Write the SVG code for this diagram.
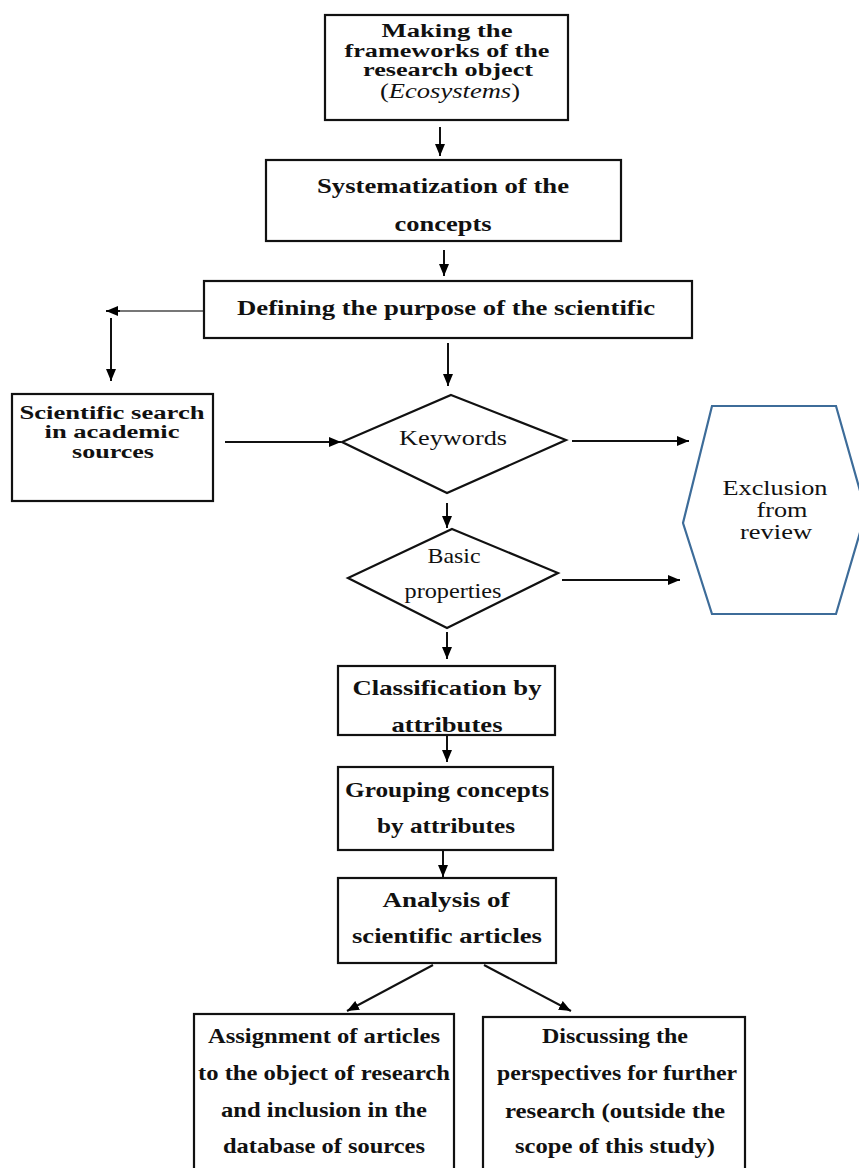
<svg xmlns="http://www.w3.org/2000/svg" width="859" height="1168" viewBox="0 0 859 1168">
<defs>
<marker id="ah" viewBox="0 0 12 10" refX="12" refY="5" markerWidth="12" markerHeight="10" markerUnits="userSpaceOnUse" orient="auto">
<path d="M0,0 L12,5 L0,10 Z" fill="#000"/>
</marker>
</defs>
<style>
.box{fill:#fff;stroke:#111;stroke-width:2.2}
.dia{fill:#fff;stroke:#111;stroke-width:2.2}
.hex{fill:#fff;stroke:#3d6c99;stroke-width:2.2}
.b{font-family:"Liberation Serif","Times New Roman",serif;font-weight:bold;font-size:22px;fill:#111;text-anchor:middle}
.t{font-size:18px}
.s{font-size:17px}
.r{font-family:"Liberation Serif","Times New Roman",serif;font-size:21px;fill:#111;text-anchor:middle}
.c{stroke:#111;stroke-width:2;fill:none;marker-end:url(#ah)}
.g{stroke:#777;stroke-width:2;fill:none}
</style>
<rect width="859" height="1168" fill="#fff"/>
<g id="connectors">
<line class="c" x1="440" y1="127" x2="440" y2="156"/>
<line class="c" x1="444" y1="250" x2="444" y2="276"/>
<line class="g" x1="204" y1="311" x2="116" y2="311"/>
<line class="c" x1="120" y1="311" x2="106" y2="311"/>
<line class="c" x1="111" y1="318" x2="111" y2="381"/>
<line class="c" x1="448" y1="343" x2="448" y2="386"/>
<line class="c" x1="225" y1="442" x2="341" y2="442"/>
<line class="c" x1="572" y1="441" x2="689" y2="441"/>
<line class="c" x1="447" y1="503" x2="447" y2="528"/>
<line class="c" x1="562" y1="580" x2="680" y2="580"/>
<line class="c" x1="447" y1="632" x2="447" y2="659"/>
<line class="c" x1="447" y1="736" x2="447" y2="762"/>
<line class="c" x1="443" y1="851" x2="443" y2="877"/>
<line class="c" x1="433" y1="965" x2="347" y2="1011"/>
<line class="c" x1="484" y1="965" x2="571" y2="1011"/>
</g>
<g id="n1">
<rect class="box" x="325" y="15" width="243" height="105"/>
<text class="b t" x="447" y="37" textLength="131" lengthAdjust="spacingAndGlyphs">Making the</text>
<text class="b t" x="447" y="57" textLength="205" lengthAdjust="spacingAndGlyphs">frameworks of the</text>
<text class="b t" x="448" y="76" textLength="170" lengthAdjust="spacingAndGlyphs">research object</text>
<text class="r s" x="450" y="98" textLength="140" lengthAdjust="spacingAndGlyphs">(<tspan font-style="italic">Ecosystems</tspan>)</text>
</g>
<g id="n2">
<rect class="box" x="266" y="160" width="355" height="81"/>
<text class="b" x="443" y="193" textLength="252" lengthAdjust="spacingAndGlyphs">Systematization of the</text>
<text class="b" x="443" y="231" textLength="97" lengthAdjust="spacingAndGlyphs">concepts</text>
</g>
<g id="n3">
<rect class="box" x="204" y="281" width="488" height="57"/>
<text class="b" x="446" y="315" textLength="418" lengthAdjust="spacingAndGlyphs">Defining the purpose of the scientific</text>
</g>
<g id="n4">
<rect class="box" x="12" y="394" width="201" height="107"/>
<text class="b t" x="112" y="419" textLength="185" lengthAdjust="spacingAndGlyphs">Scientific search</text>
<text class="b t" x="112" y="438" textLength="135" lengthAdjust="spacingAndGlyphs">in academic</text>
<text class="b t" x="113" y="458" textLength="82" lengthAdjust="spacingAndGlyphs">sources</text>
</g>
<g id="n5">
<polygon class="dia" points="451,395 566,440 447,493 342,442"/>
<text class="r" x="453" y="445" textLength="108" lengthAdjust="spacingAndGlyphs">Keywords</text>
</g>
<g id="n6">
<polygon class="dia" points="452,529 558,573 447,628 348,578"/>
<text class="r" x="454" y="563" font-size="19" textLength="53" lengthAdjust="spacingAndGlyphs">Basic</text>
<text class="r" x="453" y="598" font-size="19" textLength="97" lengthAdjust="spacingAndGlyphs">properties</text>
</g>
<g id="n7">
<polygon class="hex" points="712,406 836,406 866,512 836,614 712,614 683,523"/>
<text class="r s" x="775" y="495" textLength="105" lengthAdjust="spacingAndGlyphs">Exclusion</text>
<text class="r s" x="782" y="517" textLength="51" lengthAdjust="spacingAndGlyphs">from</text>
<text class="r s" x="776" y="539" textLength="72" lengthAdjust="spacingAndGlyphs">review</text>
</g>
<g id="n8">
<rect class="box" x="338" y="666" width="217" height="69"/>
<text class="b" x="447" y="695" textLength="189" lengthAdjust="spacingAndGlyphs">Classification by</text>
<text class="b" x="447" y="732" textLength="111" lengthAdjust="spacingAndGlyphs">attributes</text>
</g>
<g id="n9">
<rect class="box" x="338" y="767" width="215" height="83"/>
<text class="b" x="447" y="797" textLength="204" lengthAdjust="spacingAndGlyphs">Grouping concepts</text>
<text class="b" x="446" y="833" textLength="138" lengthAdjust="spacingAndGlyphs">by attributes</text>
</g>
<g id="n10">
<rect class="box" x="338" y="878" width="218" height="85"/>
<text class="b" x="446" y="907" textLength="127" lengthAdjust="spacingAndGlyphs">Analysis of</text>
<text class="b" x="447" y="943" textLength="190" lengthAdjust="spacingAndGlyphs">scientific articles</text>
</g>
<g id="n11">
<rect class="box" x="194" y="1014" width="260" height="160"/>
<text class="b" x="324" y="1043" textLength="232" lengthAdjust="spacingAndGlyphs">Assignment of articles</text>
<text class="b" x="324" y="1080" textLength="252" lengthAdjust="spacingAndGlyphs">to the object of research</text>
<text class="b" x="324" y="1117" textLength="206" lengthAdjust="spacingAndGlyphs">and inclusion in the</text>
<text class="b" x="324" y="1153" textLength="202" lengthAdjust="spacingAndGlyphs">database of sources</text>
</g>
<g id="n12">
<rect class="box" x="483" y="1017" width="262" height="160"/>
<text class="b" x="615" y="1043" textLength="146" lengthAdjust="spacingAndGlyphs">Discussing the</text>
<text class="b" x="617" y="1080" textLength="240" lengthAdjust="spacingAndGlyphs">perspectives for further</text>
<text class="b" x="615" y="1118" textLength="220" lengthAdjust="spacingAndGlyphs">research (outside the</text>
<text class="b" x="615" y="1153" textLength="200" lengthAdjust="spacingAndGlyphs">scope of this study)</text>
</g>
</svg>
